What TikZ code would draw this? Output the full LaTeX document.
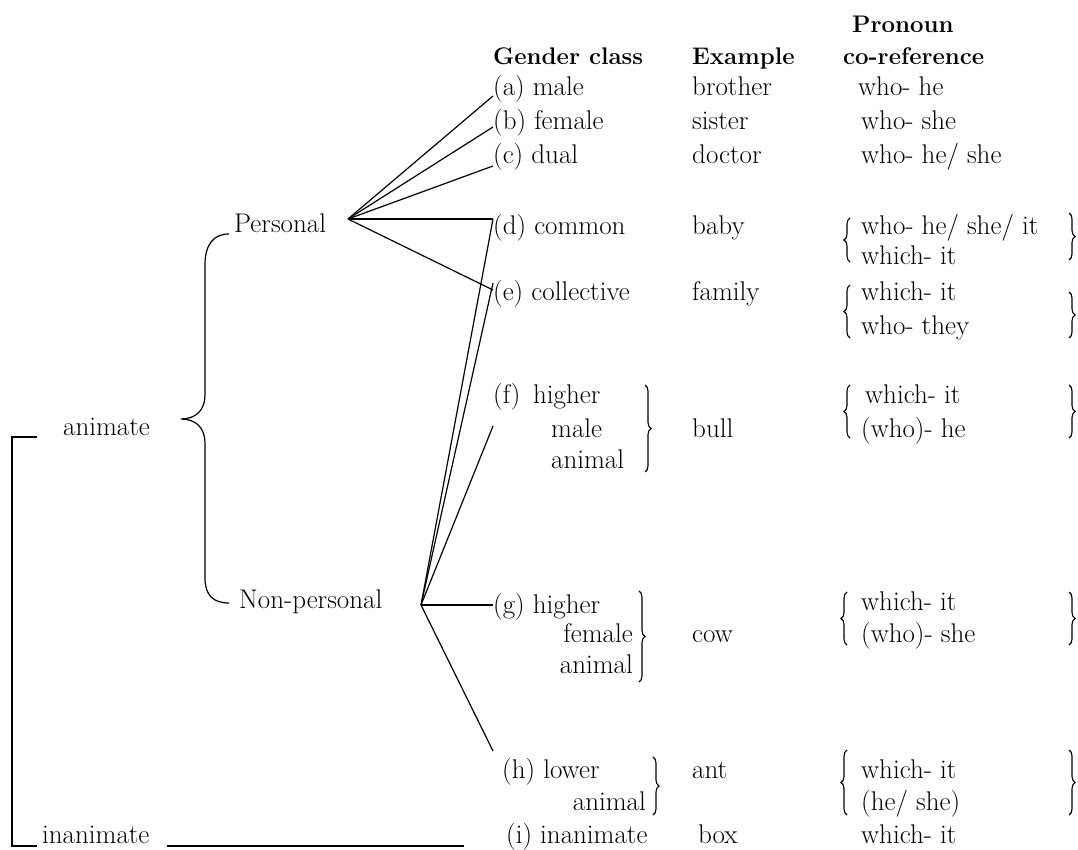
\documentclass[tikz,border=0pt]{standalone}
\usepackage{fontspec}
\usetikzlibrary{decorations.pathreplacing,calc}
\begin{document}
\begin{tikzpicture}[x=1pt,y=-1pt,
  txt/.style={anchor=base west,inner sep=0pt,font=\fontsize{27}{32}\selectfont},
  txte/.style={anchor=base east,inner sep=0pt,font=\fontsize{27}{32}\selectfont},
  hdr/.style={anchor=base west,inner sep=0pt,font=\fontsize{24}{29}\selectfont\bfseries},
  ln/.style={line width=1.2pt},
  brc/.style={line width=1.1pt,decorate,decoration={brace,amplitude=6pt}},
]
\useasboundingbox (0,0) rectangle (1078,850);

% headers
\node[hdr] (pron) at (852,33) {Pronoun};
\node[hdr] (hg) at (493,65) {Gender class};
\node[hdr] (hex) at (692,65) {Example};
\node[hdr] (hco) at (843,65) {co-reference};

% left labels
\node[txt] (anim) at (63,435) {animate};
\node[txt] (pers) at (234,233) {Personal};
\node[txt] (nonp) at (239,608) {Non-personal};
\node[txt] (inan) at (42,843) {inanimate};

% gender classes
\node[txt] (a) at (493,96) {(a) male};
\node[txt] (b) at (493,130) {(b) female};
\node[txt] (c) at (493,164) {(c) dual};
\node[txt] (d) at (493,235) {(d) common};
\node[txt] (e) at (493,300) {(e) collective};
\node[txt] (f) at (493,403) {(f)\, higher};
\node[txt] (f2) at (551,437) {male};
\node[txt] (f3) at (551,468) {animal};
\node[txt] (g) at (493,613) {(g) higher};
\node[txte] (g2) at (633,642) {female};
\node[txte] (g3) at (633,673) {animal};
\node[txt] (h) at (502,778) {(h) lower};
\node[txte] (h2) at (646,810) {animal};
\node[txt] (i) at (506,843) {(i) inanimate};

% examples
\node[txt] (xa) at (692,96) {brother};
\node[txt] (xb) at (692,130) {sister};
\node[txt] (xc) at (692,164) {doctor};
\node[txt] (xd) at (692,235) {baby};
\node[txt] (xe) at (692,300) {family};
\node[txt] (xf) at (692,437) {bull};
\node[txt] (xg) at (692,642) {cow};
\node[txt] (xh) at (692,778) {ant};
\node[txt] (xi) at (698,843) {box};

% pronouns
\node[txt] (pa) at (858,96) {who- he};
\node[txt] (pb) at (861,130) {who- she};
\node[txt] (pc) at (861,164) {who- he/ she};
\node[txt] (pd1) at (861,235) {who- he/ she/ it};
\node[txt] (pd2) at (861,265) {which- it};
\node[txt] (pe1) at (861,300) {which- it};
\node[txt] (pe2) at (861,334) {who- they};
\node[txt] (pf1) at (865,403) {which- it};
\node[txt] (pf2) at (861,437) {(who)- he};
\node[txt] (pg1) at (861,610) {which- it};
\node[txt] (pg2) at (861,642) {(who)- she};
\node[txt] (ph1) at (861,778) {which- it};
\node[txt] (ph2) at (861,810) {(he/ she)};
\node[txt] (pi) at (861,843) {which- it};

% fan points and free ends
\coordinate (P) at (348,219);
\coordinate (N) at (421,605);
\coordinate (dc) at (P -| d.west);
\coordinate (fe) at (493,426);
\coordinate (he) at (493,751);

% connectors from Personal
\draw[ln] (P) -- (a.base west);
\draw[ln] (P) -- ([yshift=3pt]b.base west);
\draw[ln] (P) -- ([yshift=-2pt]c.base west);
\draw[ln] (P) -- (dc);
\draw[ln] (P) -- ([yshift=10pt]e.base west);
% connectors from Non-personal
\draw[ln] (N) -- (dc);
\draw[ln] (N) -- ([yshift=17pt]e.base west);
\draw[ln] (N) -- (fe);
\draw[ln] (N) -- (N -| g.west);
\draw[ln] (N) -- (he);

% big brace animate
\draw[ln] (229,234) .. controls (213,234) and (205,245) .. (205,265) -- (205,395)
  .. controls (205,410) and (196,419) .. (181,419)
  .. controls (196,419) and (205,428) .. (205,443) -- (205,578)
  .. controls (205,595) and (213,603) .. (229,603);

% bracket animate / inanimate
\draw[ln] (37,437) -- (12,437) -- (12,846) -- (37,846);
\draw[ln] (167,846) -- (464,846);

% gender-class braces
\draw[brc] (645,385) -- (645,472);
\draw[brc] (639,591) -- (639,682);
\draw[brc] (653,757) -- (653,815);

% pronoun braces
\draw[brc] (850,262) -- (850,218);
\draw[brc] (1069,213) -- (1069,260);
\draw[brc] (850,338) -- (850,285);
\draw[brc] (1069,292) -- (1069,338);
\draw[brc] (850,438) -- (850,385);
\draw[brc] (1069,385) -- (1069,438);
\draw[brc] (847,645) -- (847,592);
\draw[brc] (1069,592) -- (1069,645);
\draw[brc] (847,815) -- (847,750);
\draw[brc] (1069,750) -- (1069,815);
\end{tikzpicture}
\end{document}
